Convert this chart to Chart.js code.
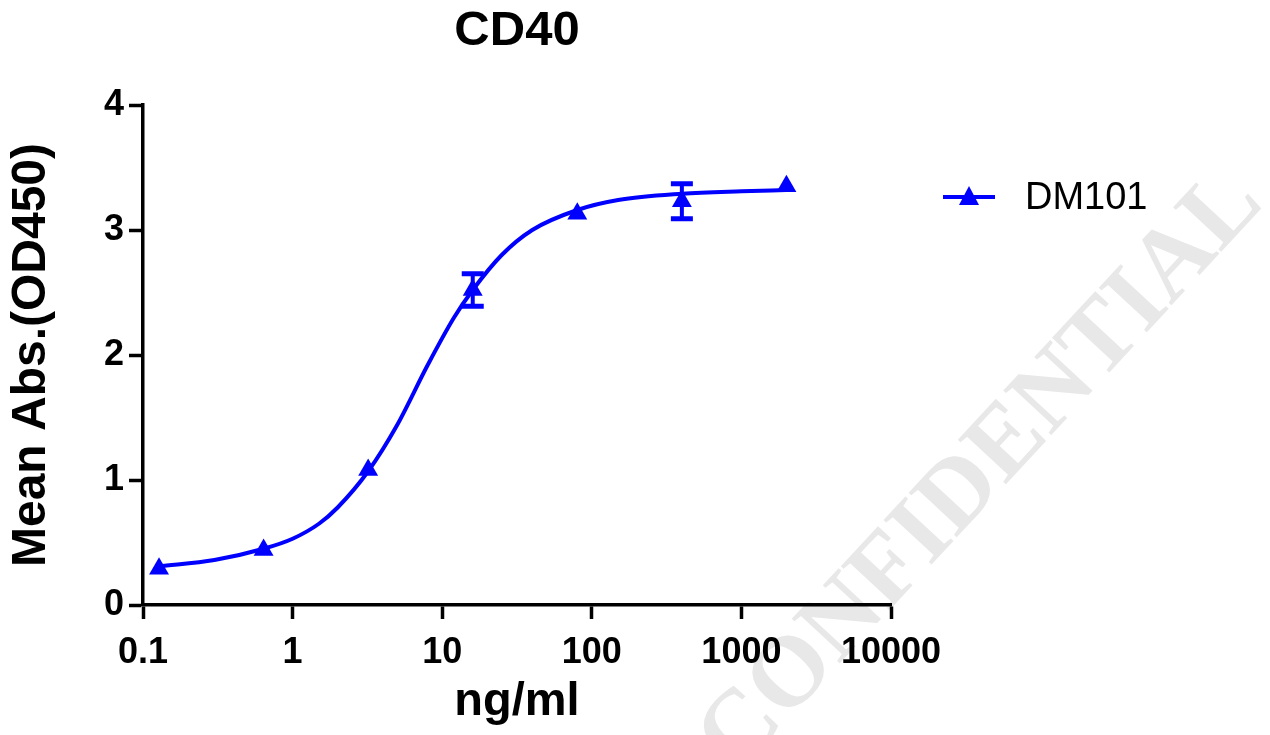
<!DOCTYPE html>
<html><head><meta charset="utf-8">
<script src="https://cdn.jsdelivr.net/npm/chart.js@4.4.1/dist/chart.umd.min.js"></script>
<style>html,body{margin:0;padding:0;background:#fff}#wrap{width:1270px;height:735px}</style>
</head><body><div id="wrap"><canvas id="c" width="1270" height="735"></canvas></div>
<script>
const chartTitle = 'CD40';
const seriesName = 'DM101';
const xTitle = 'ng/ml';
const yTitle = 'Mean Abs.(OD450)';
const watermarkText = 'CONFIDENTIAL';
const concentrations = [0.128, 0.64, 3.2, 16, 80, 400, 2000];
const meanAbs = [0.29, 0.44, 1.08, 2.52, 3.13, 3.23, 3.35];
const sdAbs = [0, 0, 0, 0.13, 0, 0.14, 0];
const fitX = [0.128, 0.3, 0.64, 1, 1.5, 2, 3.2, 5, 8, 12, 16, 25, 40, 80, 150, 400, 1000, 2000];
const fitY = [0.31, 0.36, 0.45, 0.53, 0.65, 0.78, 1.07, 1.44, 1.92, 2.30, 2.52, 2.80, 3.00, 3.16, 3.24, 3.29, 3.31, 3.32];
const xTicks = [0.1, 1, 10, 100, 1000, 10000];
const yTicks = [0, 1, 2, 3, 4];

const BLUE = '#0000FF';
const FONT = "'Liberation Sans', Arial, sans-serif";

const errorBars = {
  id: 'errorBars',
  beforeDatasetsDraw(chart) {
    const ctx = chart.ctx, xs = chart.scales.x, ys = chart.scales.y;
    ctx.save();
    ctx.fillStyle = BLUE;
    concentrations.forEach((c, i) => {
      if (!sdAbs[i]) return;
      const px = xs.getPixelForValue(c);
      const top = ys.getPixelForValue(meanAbs[i] + sdAbs[i]);
      const bot = ys.getPixelForValue(meanAbs[i] - sdAbs[i]);
      ctx.fillRect(px - 2, top, 4, bot - top);
      ctx.fillRect(px - 11, top - 2.5, 22, 5);
      ctx.fillRect(px - 11, bot - 2.5, 22, 5);
    });
    ctx.restore();
  }
};

const watermark = {
  id: 'watermark',
  beforeDraw(chart) {
    const ctx = chart.ctx;
    ctx.save();
    ctx.translate(982, 472);
    ctx.rotate(-47.2 * Math.PI / 180);
    ctx.font = "bold 100px 'Liberation Serif', 'DejaVu Serif', serif";
    ctx.fillStyle = '#e8e8e8';
    ctx.textAlign = 'center';
    ctx.textBaseline = 'middle';
    ctx.fillText(watermarkText, 0, 0);
    ctx.restore();
  }
};

const titleAndLegend = {
  id: 'titleAndLegend',
  afterDraw(chart) {
    const ctx = chart.ctx, a = chart.chartArea;
    ctx.save();
    ctx.fillStyle = '#000';
    ctx.font = 'bold 49px ' + FONT;
    ctx.textAlign = 'center';
    ctx.textBaseline = 'middle';
    ctx.fillText(chartTitle, (a.left + a.right) / 2, 31);

    ctx.strokeStyle = BLUE;
    ctx.lineWidth = 4;
    ctx.beginPath();
    ctx.moveTo(943, 197);
    ctx.lineTo(995, 197);
    ctx.stroke();
    ctx.fillStyle = BLUE;
    ctx.beginPath();
    ctx.moveTo(969, 186);
    ctx.lineTo(979, 205);
    ctx.lineTo(959, 205);
    ctx.closePath();
    ctx.fill();
    ctx.fillStyle = '#000';
    ctx.font = '38px ' + FONT;
    ctx.textAlign = 'left';
    ctx.fillText(seriesName, 1025, 199);
    ctx.restore();
  }
};

new Chart(document.getElementById('c'), {
  type: 'scatter',
  data: {
    datasets: [
      {
        label: seriesName,
        data: concentrations.map((c, i) => ({ x: c, y: meanAbs[i] })),
        showLine: false,
        pointStyle: 'triangle',
        pointRadius: 11.5,
        pointHoverRadius: 11.5,
        backgroundColor: BLUE,
        borderColor: BLUE,
        borderWidth: 0
      },
      {
        label: 'fit',
        data: fitX.map((x, i) => ({ x: x, y: fitY[i] })),
        showLine: true,
        pointRadius: 0,
        borderColor: BLUE,
        borderWidth: 4,
        cubicInterpolationMode: 'monotone',
        fill: false
      }
    ]
  },
  options: {
    responsive: false,
    animation: false,
    devicePixelRatio: 1,
    layout: { padding: { left: 0, right: 379, top: 105, bottom: 0 } },
    plugins: {
      legend: { display: false },
      tooltip: { enabled: false },
      title: { display: false }
    },
    scales: {
      x: {
        type: 'logarithmic',
        min: 0.1,
        max: 10000,
        afterBuildTicks: (s) => { s.ticks = xTicks.map(v => ({ value: v })); },
        afterFit: (s) => { s.height = 130; },
        border: { display: true, color: '#000', width: 3.5 },
        grid: { display: true, drawOnChartArea: false, drawTicks: true, tickLength: 14, tickWidth: 3.5, tickColor: '#000' },
        ticks: {
          color: '#000',
          font: { family: FONT, size: 36, weight: 'bold' },
          padding: 12,
          maxRotation: 0,
          autoSkip: false,
          callback: (v) => String(v)
        },
        title: {
          display: true,
          text: xTitle,
          color: '#000',
          font: { family: FONT, size: 47, weight: 'bold' },
          padding: { top: 0, bottom: 5 }
        }
      },
      y: {
        type: 'linear',
        min: 0,
        max: 4,
        afterBuildTicks: (s) => { s.ticks = yTicks.map(v => ({ value: v })); },
        afterFit: (s) => { s.width = 143; },
        border: { display: true, color: '#000', width: 3.5 },
        grid: { display: true, drawOnChartArea: false, drawTicks: true, tickLength: 14, tickWidth: 3.5, tickColor: '#000' },
        ticks: {
          color: '#000',
          font: { family: FONT, size: 36, weight: 'bold' },
          padding: 5
        },
        title: {
          display: true,
          text: yTitle,
          color: '#000',
          font: { family: FONT, size: 48, weight: 'bold' },
          padding: { top: 3, bottom: 0 }
        }
      }
    }
  },
  plugins: [watermark, errorBars, titleAndLegend]
});
</script>
</body></html>
